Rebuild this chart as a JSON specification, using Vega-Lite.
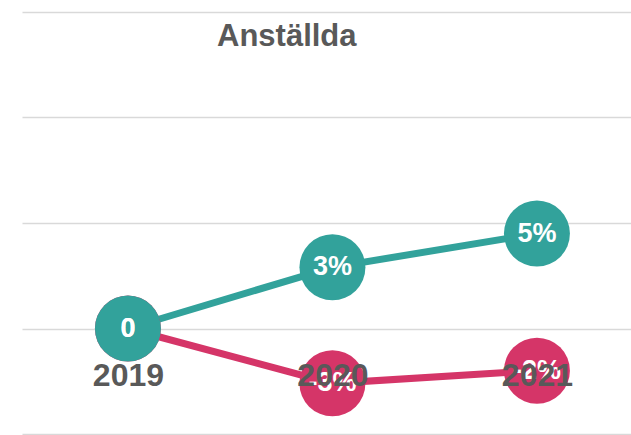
{
  "$schema": "https://vega.github.io/schema/vega-lite/v6.json",
  "width": 609,
  "height": 422,
  "autosize": "none",
  "padding": {"left": 22, "top": 12, "right": 0, "bottom": 1},
  "background": "white",
  "config": {"view": {"stroke": null}, "font": "Liberation Sans"},
  "title": {
    "text": "Anställda",
    "font": "Liberation Sans",
    "fontSize": 31,
    "fontWeight": "bold",
    "color": "#595959",
    "anchor": "start",
    "frame": "group",
    "dx": 195,
    "offset": -65,
    "baseline": "alphabetic"
  },
  "data": {
    "values": [
      {"year": 2019, "value": 0, "serie": "Serie 2", "label": "0"},
      {"year": 2020, "value": -0.026, "serie": "Serie 2", "label": "-3%"},
      {"year": 2021, "value": -0.020, "serie": "Serie 2", "label": "-2%"},
      {"year": 2019, "value": 0, "serie": "Serie 1", "label": "0"},
      {"year": 2020, "value": 0.029, "serie": "Serie 1", "label": "3%"},
      {"year": 2021, "value": 0.045, "serie": "Serie 1", "label": "5%"}
    ]
  },
  "encoding": {
    "x": {
      "field": "year",
      "type": "quantitative",
      "scale": {"domain": [2018.482, 2021.46], "nice": false, "zero": false},
      "axis": {
        "values": [2019, 2020, 2021],
        "format": "d",
        "domain": false,
        "ticks": false,
        "grid": false,
        "title": null,
        "labelFont": "Liberation Sans",
        "labelFontWeight": "bold",
        "labelFontSize": 32,
        "labelColor": "#595959",
        "labelFlush": false,
        "labelOverlap": false,
        "labelBaseline": "middle",
        "offset": -105.5,
        "labelPadding": 47,
        "zindex": 1
      }
    },
    "y": {
      "field": "value",
      "type": "quantitative",
      "scale": {"domain": [-0.05, 0.15], "nice": false},
      "axis": {
        "values": [-0.05, 0, 0.05, 0.1, 0.15],
        "grid": true,
        "gridColor": "#D9D9D9",
        "gridWidth": 1.5,
        "labels": false,
        "ticks": false,
        "domain": false,
        "title": null
      }
    },
    "color": {
      "field": "serie",
      "type": "nominal",
      "scale": {"domain": ["Serie 1", "Serie 2"], "range": ["#32A29B", "#D53568"]},
      "legend": null
    }
  },
  "layer": [
    {"mark": {"type": "line", "strokeWidth": 7}},
    {"mark": {"type": "point", "filled": true, "size": 4356, "opacity": 1, "shape": "circle"}},
    {
      "mark": {"type": "text", "fontSize": 27, "fontWeight": "bold", "align": "center", "baseline": "middle", "color": "white", "font": "Liberation Sans"},
      "encoding": {"text": {"field": "label"}, "color": {"value": "white"}}
    }
  ]
}
